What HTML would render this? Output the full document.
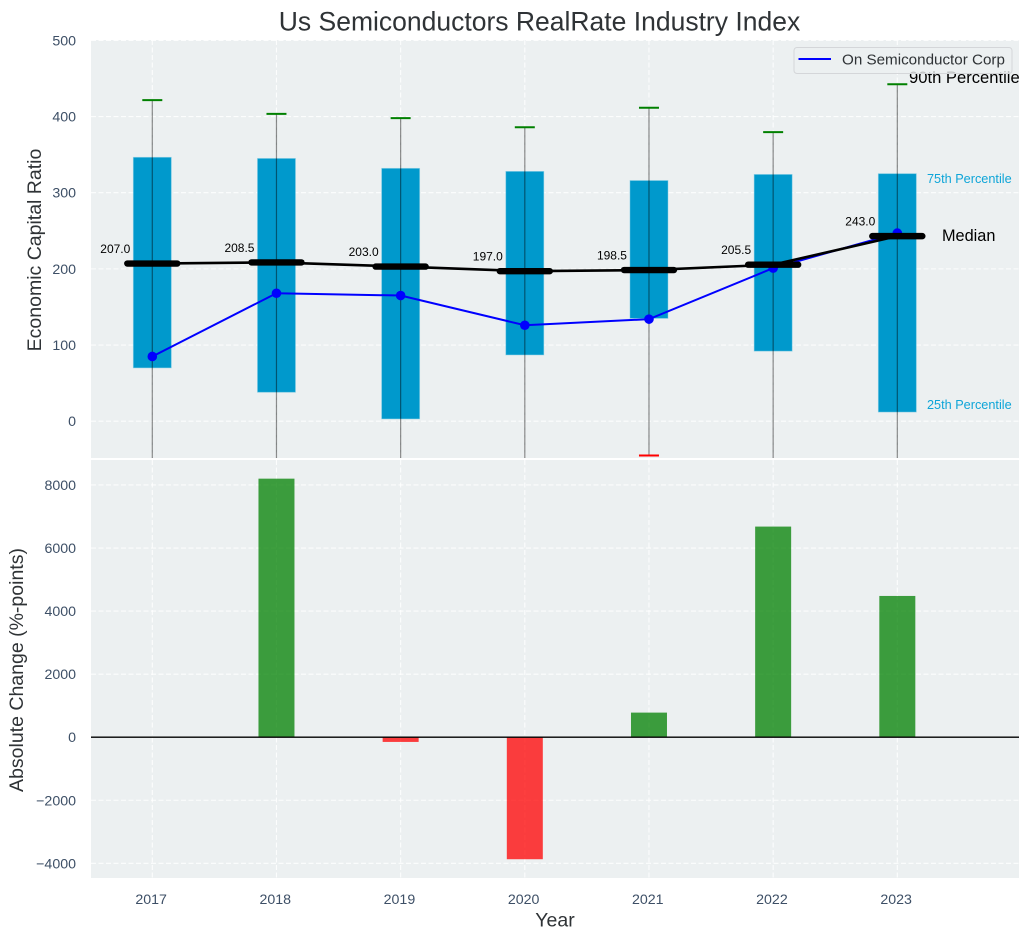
<!DOCTYPE html>
<html lang="en">
<head>
<meta charset="utf-8">
<title>Us Semiconductors RealRate Industry Index</title>
<style>
  html, body { margin: 0; padding: 0; background: #fff; }
  svg { display: block; font-family: "Liberation Sans", Arial, sans-serif; }
</style>
</head>
<body>
<svg id="chart" width="1030" height="940" viewBox="0 0 1030 940" xmlns="http://www.w3.org/2000/svg">
  <defs>
    <clipPath id="clip-top"><rect x="91" y="40" width="928" height="418"/></clipPath>
    <clipPath id="clip-bottom"><rect x="91" y="460" width="928" height="418"/></clipPath>
  </defs>
  <rect x="91" y="40" width="928" height="418" fill="#ecf0f1"/>
  <rect x="91" y="460" width="928" height="418" fill="#ecf0f1"/>
  <g id="grid-top" clip-path="url(#clip-top)"></g>
  <g id="grid-bottom" clip-path="url(#clip-bottom)"></g>
  <g id="marks-top" clip-path="url(#clip-top)"></g>
  <g id="marks-bottom" clip-path="url(#clip-bottom)"></g>
  <g id="ticks"></g>
  <g id="value-labels"></g>

  <text x="539.5" y="30.5" text-anchor="middle" font-size="26.5" fill="#2f3336">Us Semiconductors RealRate Industry Index</text>
  <text transform="translate(41 250) rotate(-90)" text-anchor="middle" font-size="19.5" fill="#2f3336">Economic Capital Ratio</text>
  <text transform="translate(23 670) rotate(-90)" text-anchor="middle" font-size="19.5" fill="#2f3336">Absolute Change (%-points)</text>
  <text x="555" y="926.5" text-anchor="middle" font-size="19.5" fill="#2f3336">Year</text>

  <text x="909" y="83" font-size="16.6" fill="#000">90th Percentile</text>
  <text x="927" y="183" font-size="12.7" fill="#0ea5d8">75th Percentile</text>
  <text x="942" y="241" font-size="16.3" fill="#000">Median</text>
  <text x="927" y="409" font-size="12.7" fill="#0ea5d8">25th Percentile</text>

  <g>
    <rect x="794" y="47.5" width="218" height="26" rx="3" fill="#ecf0f1" fill-opacity="0.8" stroke="#d4d6d9" stroke-width="1"/>
    <line x1="798.5" y1="59" x2="831" y2="59" stroke="#0000ff" stroke-width="2"/>
    <text x="842" y="64.5" font-size="15.2" fill="#2f3336">On Semiconductor Corp</text>
  </g>

<script>
// ---- chart data ----
const years = [2017, 2018, 2019, 2020, 2021, 2022, 2023];
const p90 = [421.5, 403.5, 398, 386, 411.5, 379.5, 442.5];
const p75 = [346.5, 345, 332, 328, 316, 324, 325];
const medians = [207.0, 208.5, 203.0, 197.0, 198.5, 205.5, 243.0];
const p25 = [70, 38, 3, 87, 135, 92, 12];
const p10 = [-80, -80, -80, -80, -45, -80, -80];
const companySeries = [85, 168, 165, 126, 134, 201, 247];
const absoluteChange = [0, 8200, -150, -3870, 780, 6680, 4480];
const topYTicks = [0, 100, 200, 300, 400, 500];
const bottomYTicks = [-4000, -2000, 0, 2000, 4000, 6000, 8000];

// ---- axis functions ----
function xScale(year) { return 152.3 + (year - 2017) * 124.17; }
function yTop(value) { return 421.2 - value * 0.7616; }
function yBottom(value) { return 737.2 - value * 0.03153; }

const NS = 'http://www.w3.org/2000/svg';
const gridTop = document.getElementById('grid-top');
const gridBottom = document.getElementById('grid-bottom');
const marksTop = document.getElementById('marks-top');
const marksBottom = document.getElementById('marks-bottom');
const tickLayer = document.getElementById('ticks');
const valueLayer = document.getElementById('value-labels');

function make(tag, parent, attrs) {
  const node = document.createElementNS(NS, tag);
  for (const key in attrs) node.setAttribute(key, attrs[key]);
  parent.appendChild(node);
  return node;
}
const gridStyle = { stroke: '#ffffff', 'stroke-width': 1.1, 'stroke-dasharray': '5 2.5', 'stroke-opacity': 0.85 };
const TICK_COLOR = '#3d4f66';
const BOX_HALF = 19;
const BAR_HALF = 18;
const CAP_HALF = 10;
const MEDIAN_HALF = 25;
let el;

// Horizontal grid + y tick labels
topYTicks.forEach(function (t) {
  el = make('line', gridTop, Object.assign({ x1: 91, x2: 1019, y1: yTop(t), y2: yTop(t) }, gridStyle));
  
  
  el = make('text', tickLayer, { x: 76, y: yTop(t) + 5, 'text-anchor': 'end', 'font-size': 14.2, fill: TICK_COLOR });
  el.textContent = String(t);
  
  
});
bottomYTicks.forEach(function (t) {
  el = make('line', gridBottom, Object.assign({ x1: 91, x2: 1019, y1: yBottom(t), y2: yBottom(t) }, gridStyle));
  
  
  el = make('text', tickLayer, { x: 76, y: yBottom(t) + 5, 'text-anchor': 'end', 'font-size': 14.2, fill: TICK_COLOR });
  el.textContent = String(t).replace('-', '\u2212');
  
  
});

// Vertical grid + x tick labels
years.forEach(function (yr) {
  const x = xScale(yr);
  el = make('line', gridTop, Object.assign({ x1: x, x2: x, y1: 40, y2: 458 }, gridStyle));
  
  
  el = make('line', gridBottom, Object.assign({ x1: x, x2: x, y1: 460, y2: 878 }, gridStyle));
  
  
  el = make('text', tickLayer, { x: x - 1.2, y: 904, 'text-anchor': 'middle', 'font-size': 14.2, fill: TICK_COLOR });
  el.textContent = String(yr);
  
  
});

// Interquartile boxes
years.forEach(function (yr, i) {
  const x = xScale(yr);
  el = make('rect', marksTop, {
    x: x - BOX_HALF, y: yTop(p75[i]), width: BOX_HALF * 2, height: yTop(p25[i]) - yTop(p75[i]),
    fill: '#0099cc', stroke: '#7fcce5', 'stroke-opacity': 0.6, 'stroke-width': 0.8
  });
  
  
});

// Whiskers and caps
years.forEach(function (yr, i) {
  const x = xScale(yr);
  el = make('line', marksTop, {
    x1: x, x2: x, y1: yTop(p90[i]), y2: yTop(p10[i]),
    stroke: '#000', 'stroke-opacity': 0.45, 'stroke-width': 1.2
  });
  
  
  el = make('line', marksTop, {
    x1: x - CAP_HALF, x2: x + CAP_HALF, y1: yTop(p90[i]), y2: yTop(p90[i]),
    stroke: '#008000', 'stroke-width': 2
  });
  
  
  el = make('line', marksTop, {
    x1: x - CAP_HALF, x2: x + CAP_HALF, y1: yTop(p10[i]), y2: yTop(p10[i]),
    stroke: '#ff0000', 'stroke-width': 2
  });
  
  
});

// Company series line with markers
const companyPoints = years.map(function (yr, i) { return xScale(yr) + ',' + yTop(companySeries[i]); }).join(' ');
el = make('polyline', marksTop, { points: companyPoints, fill: 'none', stroke: '#0000ff', 'stroke-width': 2 });


years.forEach(function (yr, i) {
  el = make('circle', marksTop, { cx: xScale(yr), cy: yTop(companySeries[i]), r: 4.8, fill: '#0000ff' });
  
  
});

// Median line, thick median ticks and value labels
const medianPoints = years.map(function (yr, i) { return xScale(yr) + ',' + yTop(medians[i]); }).join(' ');
el = make('polyline', marksTop, { points: medianPoints, fill: 'none', stroke: '#000', 'stroke-width': 2.6 });


years.forEach(function (yr, i) {
  const x = xScale(yr);
  const y = yTop(medians[i]);
  el = make('line', marksTop, {
    x1: x - MEDIAN_HALF, x2: x + MEDIAN_HALF, y1: y, y2: y,
    stroke: '#000', 'stroke-width': 6.4, 'stroke-linecap': 'round'
  });
  
  
  el = make('text', valueLayer, { x: x - 22, y: y - 10.5, 'text-anchor': 'end', 'font-size': 12, fill: '#000' });
  el.textContent = medians[i].toFixed(1);
  
  
});

// Absolute change bars
years.forEach(function (yr, i) {
  const v = absoluteChange[i];
  if (v === 0) return;
  const x = xScale(yr);
  const y0 = yBottom(0);
  const y1 = yBottom(v);
  el = make('rect', marksBottom, {
    x: x - BAR_HALF, y: Math.min(y0, y1), width: BAR_HALF * 2, height: Math.abs(y1 - y0),
    fill: v >= 0 ? '#008000' : '#ff0000', 'fill-opacity': 0.75
  });
  
  
});
el = make('line', marksBottom, { x1: 91, x2: 1019, y1: yBottom(0), y2: yBottom(0), stroke: '#000', 'stroke-width': 1.4 });


</script>
</svg>
</body>
</html>
